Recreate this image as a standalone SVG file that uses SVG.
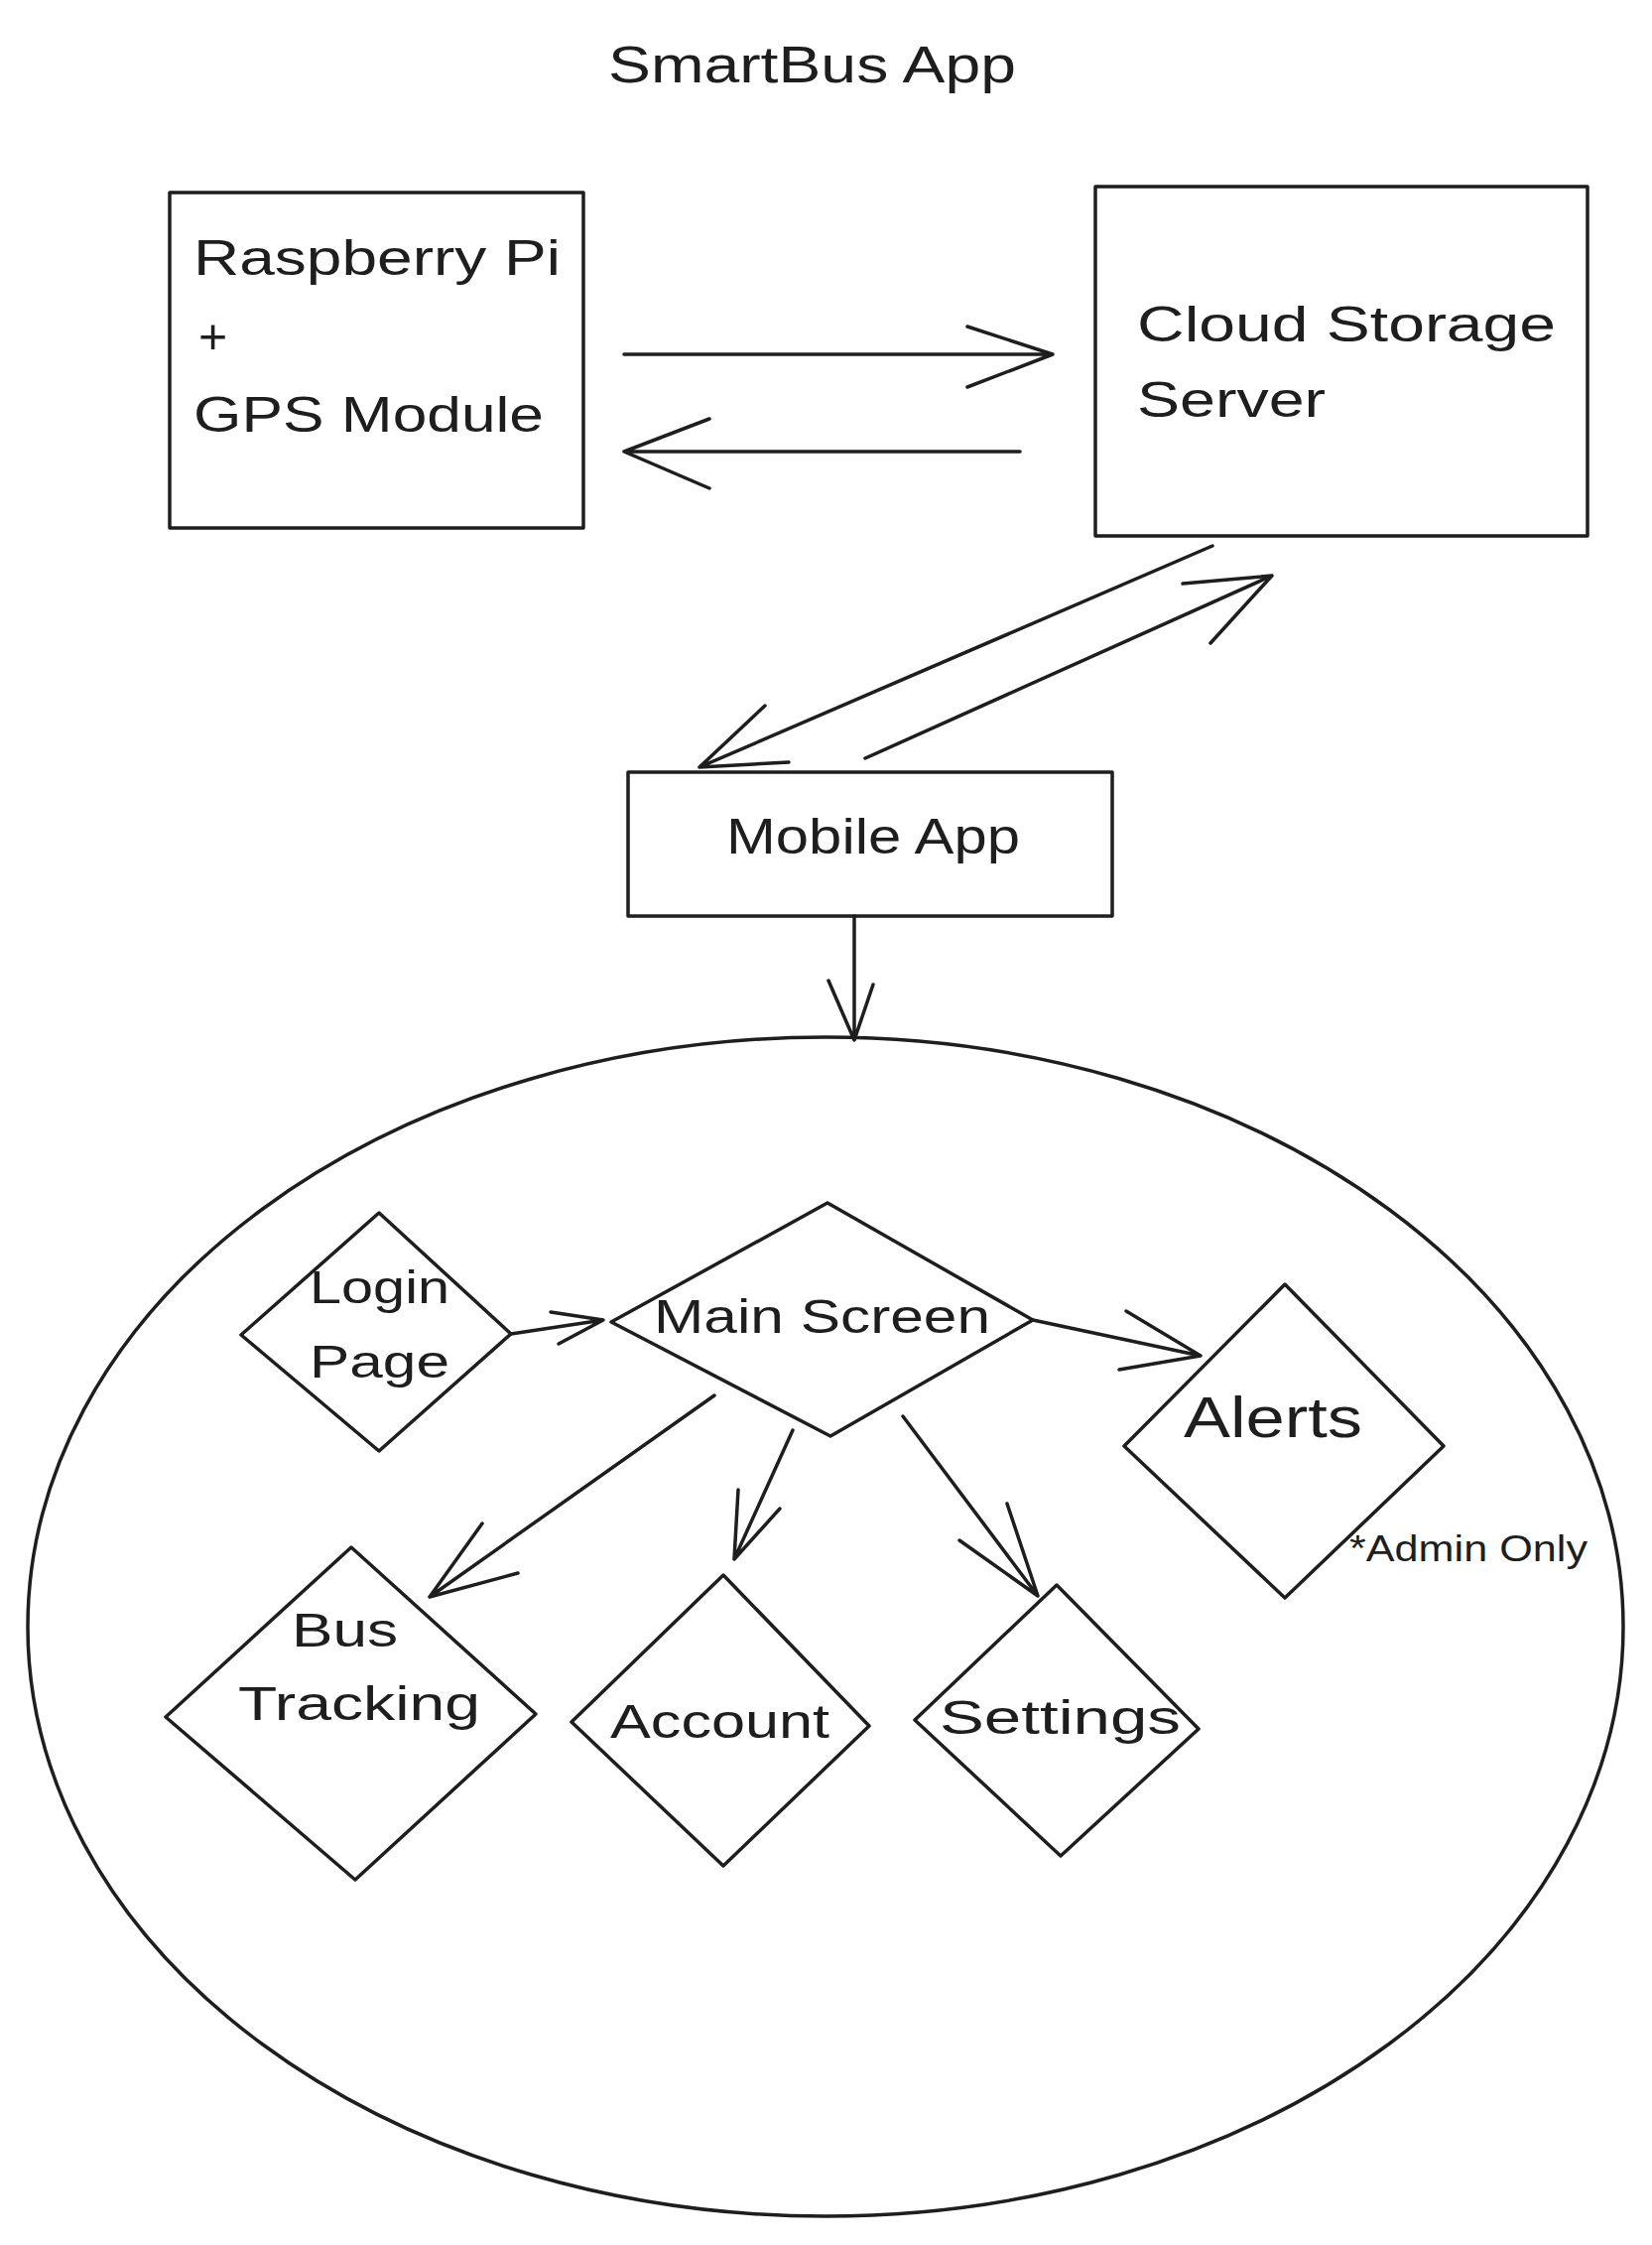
<svg xmlns="http://www.w3.org/2000/svg" width="1665" height="2262" viewBox="0 0 1665 2262">
<style>
.s{fill:none;stroke:#1e1e1e;stroke-width:3.5;stroke-linecap:round;stroke-linejoin:round}
.t{font-family:"Liberation Sans","DejaVu Sans",sans-serif;fill:#1e1e1e}
.m{font-size:50px}
.sm{font-size:36px}
</style>
<rect width="1665" height="2262" fill="#ffffff"/>
<text class="t" x="613" y="83" font-size="52" textLength="411" lengthAdjust="spacingAndGlyphs">SmartBus App</text>
<g id="ellipse-app"><ellipse class="s" cx="832" cy="1639" rx="804" ry="594"/></g>
<g id="node-raspberry">
<rect class="s" x="171" y="194" width="417" height="338"/>
<text class="t m" x="195" y="277" textLength="370" lengthAdjust="spacingAndGlyphs">Raspberry Pi</text>
<text class="t m" x="200" y="356">+</text>
<text class="t m" x="195" y="435" textLength="353" lengthAdjust="spacingAndGlyphs">GPS Module</text>
</g>
<g id="node-cloud">
<rect class="s" x="1104" y="188" width="496" height="352"/>
<text class="t m" x="1146" y="344" textLength="422" lengthAdjust="spacingAndGlyphs">Cloud Storage</text>
<text class="t m" x="1146" y="420" textLength="190" lengthAdjust="spacingAndGlyphs">Server</text>
</g>
<g id="node-mobile">
<rect class="s" x="633" y="778" width="488" height="145"/>
<text class="t m" x="732" y="860" textLength="296" lengthAdjust="spacingAndGlyphs">Mobile App</text>
</g>
<g id="node-login">
<polygon class="s" points="382,1222 515,1344 382,1462 243,1345"/>
<text class="t" font-size="46" x="312" y="1313" textLength="141" lengthAdjust="spacingAndGlyphs">Login</text>
<text class="t" font-size="46" x="312" y="1388" textLength="141" lengthAdjust="spacingAndGlyphs">Page</text>
</g>
<g id="node-main">
<polygon class="s" points="834,1212 1041,1330 837,1447 616,1332"/>
<text class="t" font-size="48" x="659" y="1343" textLength="339" lengthAdjust="spacingAndGlyphs">Main Screen</text>
</g>
<g id="node-alerts">
<polygon class="s" points="1295,1294 1455,1457 1295,1610 1133,1457"/>
<text class="t" font-size="58" x="1193" y="1448" textLength="180" lengthAdjust="spacingAndGlyphs">Alerts</text>
<text class="t sm" x="1360" y="1573" textLength="240" lengthAdjust="spacingAndGlyphs">*Admin Only</text>
</g>
<g id="node-bus">
<polygon class="s" points="354,1559 540,1727 358,1894 167,1730"/>
<text class="t" font-size="48" x="294" y="1659" textLength="107" lengthAdjust="spacingAndGlyphs">Bus</text>
<text class="t" font-size="48" x="240" y="1733" textLength="244" lengthAdjust="spacingAndGlyphs">Tracking</text>
</g>
<g id="node-account">
<polygon class="s" points="729,1587 876,1739 729,1880 576,1735"/>
<text class="t" font-size="48" x="615" y="1751" textLength="221" lengthAdjust="spacingAndGlyphs">Account</text>
</g>
<g id="node-settings">
<polygon class="s" points="1065,1597 1208,1742 1069,1870 922,1733"/>
<text class="t" font-size="48" x="947" y="1747" textLength="243" lengthAdjust="spacingAndGlyphs">Settings</text>
</g>
<g id="connectors">
<path class="s" d="M629,357 L1061,357 M975,329 L1061,357 L975,390"/>
<path class="s" d="M1028,455 L629,455 M715,422 L629,455 L715,492"/>
<path class="s" d="M1222,550 L705,773 M771,711 L705,773 L795,768"/>
<path class="s" d="M872,764 L1282,580 M1192,588 L1282,580 L1220,648"/>
<path class="s" d="M861,923 L861,1048 M835,988 L861,1048 L880,992"/>
<path class="s" d="M515,1344 L608,1330 M555,1322 L608,1330 L563,1354"/>
<path class="s" d="M1041,1330 L1210,1366 M1135,1321 L1210,1366 L1128,1380"/>
<path class="s" d="M720,1406 L433,1609 M486,1535 L433,1609 L522,1585"/>
<path class="s" d="M799,1441 L740,1571 M744,1501 L740,1571 L786,1520"/>
<path class="s" d="M910,1427 L1046,1608 M967,1552 L1046,1608 L1015,1515"/>
</g>
</svg>
